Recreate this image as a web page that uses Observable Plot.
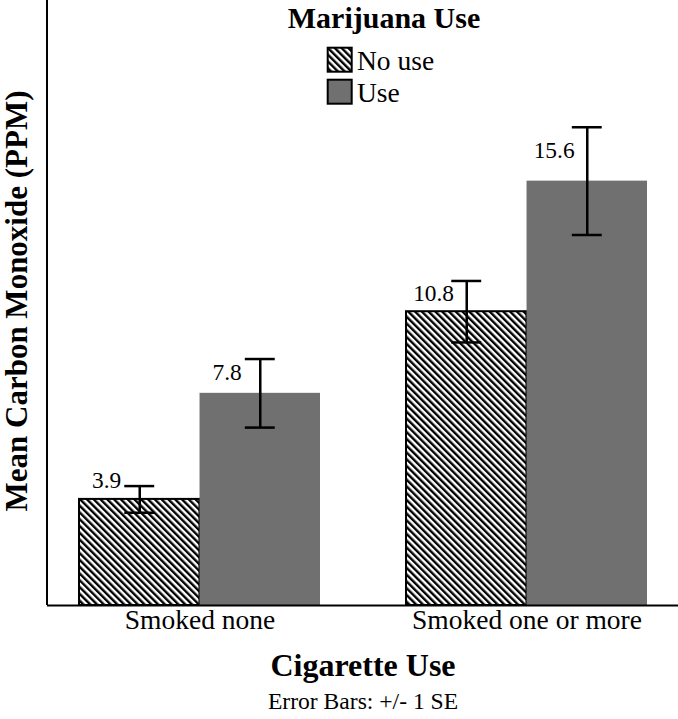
<!DOCTYPE html>
<html>
<head>
<meta charset="utf-8">
<script src="https://cdn.jsdelivr.net/npm/d3@7"></script>
<script src="https://cdn.jsdelivr.net/npm/@observablehq/plot@0.6"></script>
<style>
  html, body { margin: 0; padding: 0; background: white; }
  #chart { width: 678px; height: 719px; }
</style>
</head>
<body>
<div id="chart"></div>
<script>
// ---- data ----
const groups = ["Smoked none", "Smoked one or more"];
const series = ["No use", "Use"];
const noUseMeans = [3.9, 10.8];
const useMeans = [7.8, 15.6];
const noUseSE = [0.49, 1.13];
const useSE = [1.26, 1.98];
const yLabel = "Mean Carbon Monoxide (PPM)";
const xLabel = "Cigarette Use";
const caption = "Error Bars: +/- 1 SE";
const legendTitle = "Marijuana Use";

// ---- layout ----
const W = 678, H = 719, ML = 47, MR = 0, MT = 0, MB = 114;
const pi = 0.263, po = 0.096;
const step = (W - ML - MR) / (groups.length - pi + 2 * po);
const bw = step * (1 - pi);
const capHalf = 15;
const GRAY = "#707070";

const rows = [];
groups.forEach((g, i) => {
  rows.push({group: g, series: series[0], mean: noUseMeans[i], se: noUseSE[i]});
  rows.push({group: g, series: series[1], mean: useMeans[i], se: useSE[i]});
});
rows.forEach(d => {
  d.lo = d.mean - d.se;
  d.hi = d.mean + d.se;
  d.labelY = d.mean + Math.max(0.68, d.se * 0.52 + 0.1);
  d.label = d.mean.toFixed(1);
});
const A = rows.filter(d => d.series === series[0]);
const B = rows.filter(d => d.series === series[1]);

const errMarks = (data, k) => {
  const c = bw / 4 + k * bw / 2; // center within band
  return [
    Plot.ruleX(data, {x: "group", y1: "lo", y2: "hi", dx: c - bw / 2, stroke: "black", strokeWidth: 2.5}),
    Plot.tickY(data, {x: "group", y: "hi", insetLeft: c - capHalf, insetRight: bw - c - capHalf, stroke: "black", strokeWidth: 2.5}),
    Plot.tickY(data, {x: "group", y: "lo", insetLeft: c - capHalf, insetRight: bw - c - capHalf, stroke: "black", strokeWidth: 2.5}),
    Plot.text(data, {x: "group", y: "labelY", text: "label", dx: c - bw / 8 - bw / 2 - 3, fontSize: 23.4, textAnchor: "middle", lineAnchor: "middle", fill: "black"})
  ];
};

const plot = Plot.plot({
  width: W, height: H,
  marginLeft: ML, marginRight: MR, marginTop: MT, marginBottom: MB,
  style: {fontFamily: "Liberation Serif", color: "black", background: "white", overflow: "visible"},
  x: {domain: groups, paddingInner: pi, paddingOuter: po},
  y: {domain: [0, 22.24]},
  marks: [
    Plot.barY(A, {x: "group", y: "mean", fill: "url(#hatch)", stroke: "black", strokeWidth: 2, insetRight: bw / 2}),
    Plot.barY(B, {x: "group", y: "mean", fill: GRAY, insetLeft: bw / 2}),
    ...errMarks(A, 0),
    ...errMarks(B, 1),
    Plot.axisX({tickSize: 0, tickPadding: 3.5, fontSize: 27.5, label: null}),
    Plot.axisY({ticks: [], label: null, tickSize: 0}),
    Plot.ruleY([0], {stroke: "black", strokeWidth: 2}),
    Plot.text([yLabel], {text: d => d, frameAnchor: "left", rotate: -90, dx: -30, dy: -2, fontSize: 31, fontWeight: "bold", textAnchor: "middle", lineAnchor: "middle", fill: "black"}),
    Plot.text([xLabel], {text: d => d, frameAnchor: "bottom", dy: 70, fontSize: 32, fontWeight: "bold", textAnchor: "middle", lineAnchor: "bottom", fill: "black"}),
    Plot.text([caption], {text: d => d, frameAnchor: "bottom", dy: 103, fontSize: 23.6, textAnchor: "middle", lineAnchor: "bottom", fill: "black"})
  ]
});

// pattern defs
const svgRoot = plot.tagName.toLowerCase() === "svg" ? plot : plot.querySelector("svg");
const sel = d3.select(svgRoot);
const defs = sel.insert("defs", ":first-child");
defs.html('<pattern id="hatch" patternUnits="userSpaceOnUse" width="4.8" height="4.8" patternTransform="rotate(-45)">' +
  '<rect width="4.8" height="4.8" fill="white"/><rect width="2.4" height="4.8" fill="black"/></pattern>');

// y axis line
sel.append("line").attr("x1", ML).attr("x2", ML).attr("y1", MT).attr("y2", H - MB)
  .attr("stroke", "black").attr("stroke-width", 2);

// legend
const lg = sel.append("g").attr("font-family", "Liberation Serif").attr("fill", "black");
lg.append("text").attr("x", 384).attr("y", 28).attr("text-anchor", "middle")
  .attr("font-size", 30).attr("font-weight", "bold").text(legendTitle);
const swatchFills = ["url(#hatch)", GRAY];
series.forEach((s, i) => {
  lg.append("rect").attr("x", 327.7).attr("y", 47.7 + i * 32).attr("width", 24).attr("height", 24)
    .attr("fill", swatchFills[i]).attr("stroke", "black").attr("stroke-width", 2);
  lg.append("text").attr("x", 357).attr("y", 70 + i * 32).attr("text-anchor", "start")
    .attr("font-size", 27.5).text(s);
});

document.getElementById("chart").appendChild(plot);
</script>
</body>
</html>
